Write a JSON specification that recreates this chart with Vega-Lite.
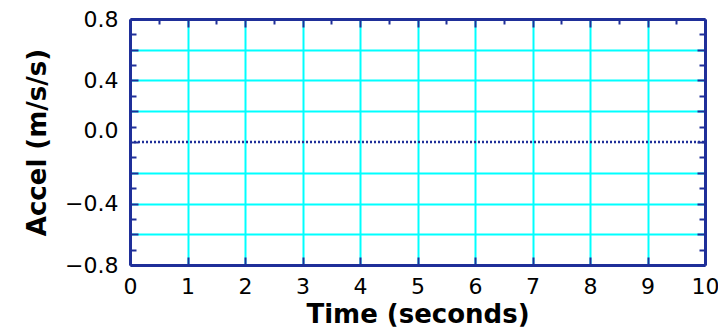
{
  "$schema": "https://vega.github.io/schema/vega-lite/v6.json",
  "width": 575,
  "height": 246,
  "autosize": {"type": "none"},
  "padding": {"left": 130, "top": 19, "right": 13, "bottom": 66},
  "background": "white",
  "data": {"values": [
    {"time": 0, "accel": 0},
    {"time": 10, "accel": 0}
  ]},
  "config": {
    "view": {"stroke": null},
    "axis": {
      "labelFont": "DejaVu Sans",
      "labelFontSize": 22,
      "labelColor": "black",
      "titleFont": "DejaVu Sans",
      "titleFontSize": 26,
      "titleFontWeight": "bold",
      "titleColor": "black",
      "tickColor": "#1f2f99",
      "tickWidth": 2,
      "domainColor": "#1f2f99",
      "domainWidth": 3,
      "gridColor": "#00ffff",
      "gridWidth": 2
    }
  },
  "layer": [
    {
      "mark": {"type": "line", "color": "#1f2f99", "strokeWidth": 2.5, "strokeDash": [2, 2]},
      "encoding": {
        "x": {
          "field": "time", "type": "quantitative",
          "scale": {"domain": [0, 10], "nice": false, "zero": false},
          "axis": {
            "orient": "bottom",
            "title": "Time (seconds)",
            "titlePadding": 4,
            "values": [0, 0.5, 1, 1.5, 2, 2.5, 3, 3.5, 4, 4.5, 5, 5.5, 6, 6.5, 7, 7.5, 8, 8.5, 9, 9.5, 10],
            "format": "d",
            "labelExpr": "datum.value % 1 === 0 ? datum.label : ''",
            "labelPadding": 19,
            "labelFlush": false,
            "labelOverlap": false,
            "tickSize": {"condition": {"test": "datum.value % 1 !== 0", "value": -5}, "value": -8},
            "grid": true,
            "gridOpacity": {"condition": {"test": "datum.value % 1 !== 0 || datum.value === 0 || datum.value === 10", "value": 0}, "value": 1}
          }
        },
        "y": {
          "field": "accel", "type": "quantitative",
          "scale": {"domain": [-0.8, 0.8], "nice": false, "zero": false},
          "axis": {
            "orient": "left",
            "title": "Accel (m/s/s)",
            "titlePadding": 14,
            "values": [-0.8, -0.7, -0.6, -0.5, -0.4, -0.3, -0.2, -0.1, 0, 0.1, 0.2, 0.3, 0.4, 0.5, 0.6, 0.7, 0.8],
            "format": ".1f",
            "labelExpr": "abs(round(datum.value * 10)) % 4 === 0 ? datum.label : ''",
            "labelPadding": 20,
            "labelFlush": false,
            "labelOverlap": false,
            "labelOffset": {"condition": {"test": "datum.value === 0", "value": -12}, "value": 0},
            "tickSize": {"condition": {"test": "abs(round(datum.value * 10)) % 2 === 1", "value": -6}, "value": -8},
            "grid": true,
            "gridOpacity": {"condition": {"test": "abs(round(datum.value * 10)) % 2 === 1 || datum.value === 0 || abs(datum.value) > 0.75", "value": 0}, "value": 1}
          }
        }
      }
    },
    {
      "mark": {"type": "line", "opacity": 0},
      "encoding": {
        "x": {
          "field": "time", "type": "quantitative",
          "axis": {
            "orient": "top",
            "title": null,
            "values": [0, 0.5, 1, 1.5, 2, 2.5, 3, 3.5, 4, 4.5, 5, 5.5, 6, 6.5, 7, 7.5, 8, 8.5, 9, 9.5, 10],
            "labels": false,
            "grid": false,
            "tickSize": {"condition": {"test": "datum.value % 1 !== 0", "value": -5}, "value": -8}
          }
        },
        "y": {
          "field": "accel", "type": "quantitative",
          "axis": {
            "orient": "right",
            "title": null,
            "values": [-0.8, -0.7, -0.6, -0.5, -0.4, -0.3, -0.2, -0.1, 0, 0.1, 0.2, 0.3, 0.4, 0.5, 0.6, 0.7, 0.8],
            "labels": false,
            "grid": false,
            "tickSize": {"condition": {"test": "abs(round(datum.value * 10)) % 2 === 1", "value": -6}, "value": -8}
          }
        }
      }
    }
  ],
  "resolve": {"axis": {"x": "independent", "y": "independent"}}
}
